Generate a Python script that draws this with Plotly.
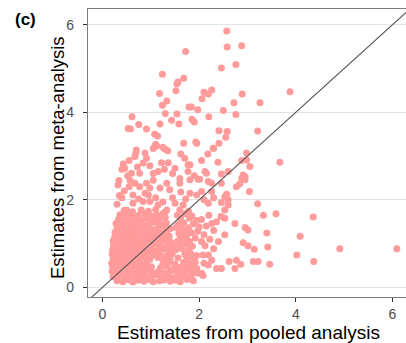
import plotly.graph_objects as go

# Sparse upper points (pooled, meta)
upper = [(2.57,5.86),(2.58,5.49),(2.88,5.52),(1.72,5.39),(2.76,5.09),(2.46,5.01),(1.24,4.87),(1.68,4.78),
         (1.56,4.69),(1.54,4.65),(1.52,4.49),(1.18,4.43),(2.10,4.46),(2.26,4.51),(2.19,4.42),(2.89,4.42),
         (3.88,4.47),(2.06,4.31),(1.33,4.26),(2.72,4.22),(3.26,4.22),(1.24,4.16),(1.79,4.12),(1.84,4.12),
         (1.97,4.06),(2.50,4.04),(1.30,3.97),(1.54,3.96),(2.76,3.95),(0.61,3.90),(2.20,3.90),(1.43,3.82),
         (1.85,3.84),(1.90,3.78),(1.58,3.73),(1.19,3.73),(0.75,3.72),(0.53,3.63),(0.58,3.62),(0.91,3.62),
         (2.41,3.58),(2.58,3.56),(3.21,3.57),(1.08,3.50),(1.14,3.46),(2.55,3.43),(1.93,3.32),(1.68,3.29),
         (1.10,3.27),(2.41,3.29),(1.08,3.22),(1.25,3.20),(0.70,3.14),(2.30,3.18)]

# Middle band points
middle = [(1.12,3.23),(1.29,3.16),(2.29,3.18),(2.98,3.07),(1.95,3.29),(0.69,3.07),(0.67,2.99),(0.88,3.07),
          (0.91,2.95),(0.43,2.82),(0.46,2.72),(0.84,2.84),(0.98,2.78),(1.22,2.85),(1.36,2.85),(1.15,2.65),
          (1.77,2.80),(1.77,2.65),(0.60,2.61),(0.77,2.61),(0.34,2.44),(0.32,2.34),(0.57,2.44),(0.67,2.38),
          (0.77,2.30),(0.91,2.38),(0.98,2.27),(1.19,2.27),(1.33,2.38),(1.39,2.23),(1.60,2.49),(1.60,2.38),
          (1.81,2.46),(0.63,2.11),(0.88,2.15),(0.95,2.11),(1.81,2.15),(1.95,2.11),(0.50,1.77),(0.63,1.92),
          (0.84,1.96),(0.98,1.96),(1.15,1.88),(1.33,1.77),(1.50,1.92),(1.67,1.88),
          (2.39,2.86),(2.88,2.90),(3.67,2.86),(3.05,2.76),(2.12,2.65),(2.46,2.59),(2.60,2.65),(2.91,2.57),
          (2.88,2.49),(1.98,2.47),(2.19,2.42),(2.26,2.38),(2.84,2.36),(2.46,2.38),(2.05,2.19),(2.26,2.19),
          (2.57,2.13),(3.04,2.19),(2.46,1.94),(2.60,2.00),(2.60,1.88),(2.53,1.77),(3.21,1.91),(2.98,2.91),
          (2.95,2.53),(2.15,2.61),(2.77,2.30),(2.95,2.46),(2.19,1.92),(2.53,2.07),(1.81,2.80),(2.01,2.47),
          (1.05,3.17),(1.35,3.12),(0.55,2.90),(0.40,2.70),(0.52,2.55),(0.72,2.75),(1.05,2.60),(1.28,2.70),
          (1.45,2.60),(1.70,2.95),(1.90,2.55),(0.45,2.20),(0.40,2.05),(0.75,2.02),(1.10,2.05),(1.25,1.95),
          (1.45,2.05),(1.62,2.18),(1.72,2.02),(2.10,2.00),(2.30,2.05),(0.30,1.90),(0.35,2.10),(0.55,2.30),
          (1.05,2.45),(1.50,2.72),(1.62,3.05),(2.05,2.90),(2.18,3.05)]

# Lower-right scattered points
lower_right = [(3.33,1.65),(3.59,1.68),(4.36,1.61),(2.53,1.58),(2.74,1.46),(2.95,1.37),(3.01,1.31),(3.40,1.24),
               (2.53,1.20),(2.36,1.50),(2.26,1.46),(2.91,1.02),(3.01,0.95),(3.14,0.87),(3.42,0.92),(4.02,0.74),
               (4.09,1.17),(2.19,0.74),(2.08,0.74),(2.26,0.62),(2.19,0.51),(2.36,0.43),(2.46,0.43),(2.62,0.59),
               (2.74,0.43),(2.86,0.53),(3.12,0.59),(3.22,0.59),(3.46,0.53),(1.98,0.32),(2.05,0.32),(1.95,0.43),
               (4.91,0.88),(6.09,0.88),(4.37,0.59),(2.77,0.62),(2.05,1.55),(2.15,1.40),(2.30,1.30),(2.10,1.20),
               (2.22,1.10),(2.40,1.05),(2.12,0.95),(2.30,0.88),(2.05,1.05),(2.45,1.62),(2.20,1.65)]

# Dense core near the origin
core = [(0.30,0.15),(0.42,0.13),(0.55,0.17),(0.63,0.12),(0.74,0.16),(0.86,0.14),(0.97,0.18),(1.05,0.13),
        (1.18,0.15),(1.27,0.17),(1.40,0.14),(1.52,0.16),(1.61,0.13),(1.75,0.18),(1.88,0.15),
        (0.22,0.24),(0.33,0.27),(0.45,0.23),(0.52,0.28),(0.66,0.25),(0.78,0.22),(0.88,0.27),(1.00,0.24),
        (1.12,0.28),(1.22,0.23),(1.35,0.26),(1.46,0.22),(1.58,0.27),(1.70,0.25),(1.83,0.23),(2.08,0.27),
        (0.20,0.36),(0.28,0.33),(0.38,0.37),(0.50,0.34),(0.60,0.38),(0.71,0.33),(0.83,0.36),(0.93,0.39),
        (1.04,0.34),(1.16,0.37),(1.30,0.33),(1.42,0.38),(1.55,0.35),(1.66,0.32),(1.80,0.37),(1.90,0.34),
        (0.21,0.46),(0.31,0.44),(0.42,0.48),(0.54,0.43),(0.64,0.47),(0.76,0.45),(0.90,0.42),(1.01,0.47),
        (1.20,0.45),(1.33,0.48),(1.48,0.43),(1.59,0.46),(1.72,0.44),(1.85,0.48),
        (0.19,0.55),(0.27,0.58),(0.37,0.53),(0.47,0.57),(0.58,0.54),(0.69,0.58),(0.80,0.53),(0.92,0.56),
        (1.25,0.55),(1.38,0.58),(1.50,0.53),(1.68,0.57),(1.80,0.54),(1.92,0.58),(2.10,0.55),
        (0.22,0.66),(0.33,0.63),(0.43,0.67),(0.55,0.64),(0.66,0.68),(0.77,0.63),(0.88,0.67),(0.98,0.64),
        (1.15,0.68),(1.28,0.65),(1.40,0.63),(1.56,0.67),(1.75,0.64),(1.88,0.68),
        (0.20,0.76),(0.29,0.73),(0.40,0.77),(0.51,0.74),(0.62,0.78),(0.73,0.73),(0.85,0.76),(0.95,0.79),
        (1.07,0.74),(1.18,0.77),(1.32,0.73),(1.44,0.77),(1.70,0.75),(1.82,0.78),(1.95,0.73),
        (0.21,0.86),(0.34,0.84),(0.45,0.88),(0.57,0.83),(0.68,0.87),(0.80,0.85),(0.91,0.82),(1.03,0.87),
        (1.14,0.84),(1.26,0.88),(1.38,0.83),(1.52,0.86),(1.64,0.89),(1.78,0.84),
        (0.23,0.95),(0.31,0.98),(0.42,0.93),(0.53,0.97),(0.64,0.94),(0.75,0.98),(0.87,0.93),(0.99,0.96),
        (1.10,0.99),(1.22,0.94),(1.36,0.97),(1.48,0.93),(1.60,0.96),(1.74,0.99),(1.86,0.94),
        (0.22,1.06),(0.36,1.03),(0.48,1.07),(0.60,1.04),(0.71,1.08),(0.83,1.03),(0.95,1.06),(1.06,1.09),
        (1.18,1.04),(1.30,1.07),(1.42,1.03),(1.56,1.06),(1.68,1.09),(1.80,1.05),
        (0.25,1.15),(0.33,1.18),(0.44,1.13),(0.55,1.17),(0.67,1.14),(0.79,1.18),(0.90,1.13),(1.02,1.16),
        (1.14,1.19),(1.26,1.14),(1.38,1.17),(1.62,1.15),(1.74,1.18),(1.92,1.13),
        (0.26,1.26),(0.38,1.23),(0.50,1.27),(0.62,1.24),(0.73,1.28),(0.86,1.23),(0.97,1.26),(1.10,1.29),
        (1.22,1.24),(1.33,1.27),(1.58,1.23),(1.70,1.27),(1.84,1.25),(1.97,1.28),
        (0.30,1.35),(0.42,1.38),(0.54,1.33),(0.66,1.37),(0.78,1.34),(0.90,1.38),(1.02,1.33),(1.15,1.36),
        (1.28,1.39),(1.40,1.34),(1.52,1.37),(1.65,1.33),(1.78,1.36),(2.00,1.38),
        (0.28,1.46),(0.37,1.43),(0.48,1.47),(0.60,1.44),(0.72,1.48),(0.84,1.43),(0.97,1.46),(1.08,1.49),
        (1.20,1.44),(1.32,1.47),(1.56,1.43),(1.68,1.47),(1.88,1.45),
        (0.33,1.55),(0.45,1.58),(0.57,1.53),(0.69,1.57),(0.81,1.54),(0.93,1.58),(1.05,1.53),(1.17,1.56),
        (1.30,1.59),(1.62,1.55),(1.80,1.58),(1.95,1.53),
        (0.36,1.66),(0.48,1.63),(0.60,1.67),(0.74,1.64),(0.88,1.68),(1.00,1.63),(1.12,1.66),(1.25,1.69),
        (1.55,1.65),(1.70,1.68),(1.85,1.63),
        (0.45,1.76),(0.62,1.73),(0.80,1.77),(0.95,1.74),(1.10,1.78),(1.30,1.73),(1.60,1.77),(1.78,1.74)]

x_range = [-0.30, 6.28]
y_range = [-0.22, 6.36]
tick_vals = [0, 2, 4, 6]
tick_text = ["0", "2", "4", "6"]
x_title = "Estimates from pooled analysis"
y_title = "Estimates from meta-analysis"
panel_label = "<b>(c)</b>"

points = core + middle + lower_right + upper
px = [p[0] for p in points]
py = [p[1] for p in points]

FONT = "Liberation Sans, Arial, Helvetica"

fig = go.Figure()
fig.add_trace(go.Scatter(x=px, y=py, mode="markers",
                         marker=dict(color="#FF9B9B", size=7, line=dict(width=0)),
                         showlegend=False, hoverinfo="skip"))
fig.add_trace(go.Scatter(x=[-1, 7], y=[-1, 7], mode="lines",
                         line=dict(color="#555555", width=1.1), showlegend=False, hoverinfo="skip"))

axis_common = dict(showline=True, linecolor="#7F7F7F", linewidth=1.2, mirror=True,
                   ticks="outside", ticklen=4, tickcolor="#333333", tickwidth=1,
                   tickfont=dict(family=FONT, size=14, color="#4D4D4D"),
                   zeroline=False, tickvals=tick_vals, ticktext=tick_text, automargin=False)

fig.update_xaxes(range=x_range, showgrid=False, ticklabelstandoff=0, **axis_common)
fig.update_yaxes(range=y_range, showgrid=True, gridcolor="#E3E3E3", gridwidth=1,
                 ticklabelstandoff=6, **axis_common)

fig.update_layout(width=406, height=343, margin=dict(l=88, r=0, t=9, b=46, autoexpand=False),
                  plot_bgcolor="white", paper_bgcolor="white")

# plot area: 318 x 288 px
fig.add_annotation(text=x_title, xref="paper", yref="paper", x=0.506, y=-0.122,
                   xanchor="center", yanchor="middle", showarrow=False,
                   font=dict(family=FONT, size=19, color="black"))
fig.add_annotation(text=y_title, xref="paper", yref="paper", x=-0.094, y=0.483,
                   xanchor="center", yanchor="middle", showarrow=False, textangle=-90,
                   font=dict(family=FONT, size=18.5, color="black"))
fig.add_annotation(text=panel_label, xref="paper", yref="paper", x=-0.198, y=0.964,
                   xanchor="center", yanchor="middle", showarrow=False,
                   font=dict(family=FONT, size=17, color="black"))

fig.write_html("out.html", config={"displayModeBar": False},
               post_script="document.body.style.margin='0px';document.body.style.overflow='hidden';")
